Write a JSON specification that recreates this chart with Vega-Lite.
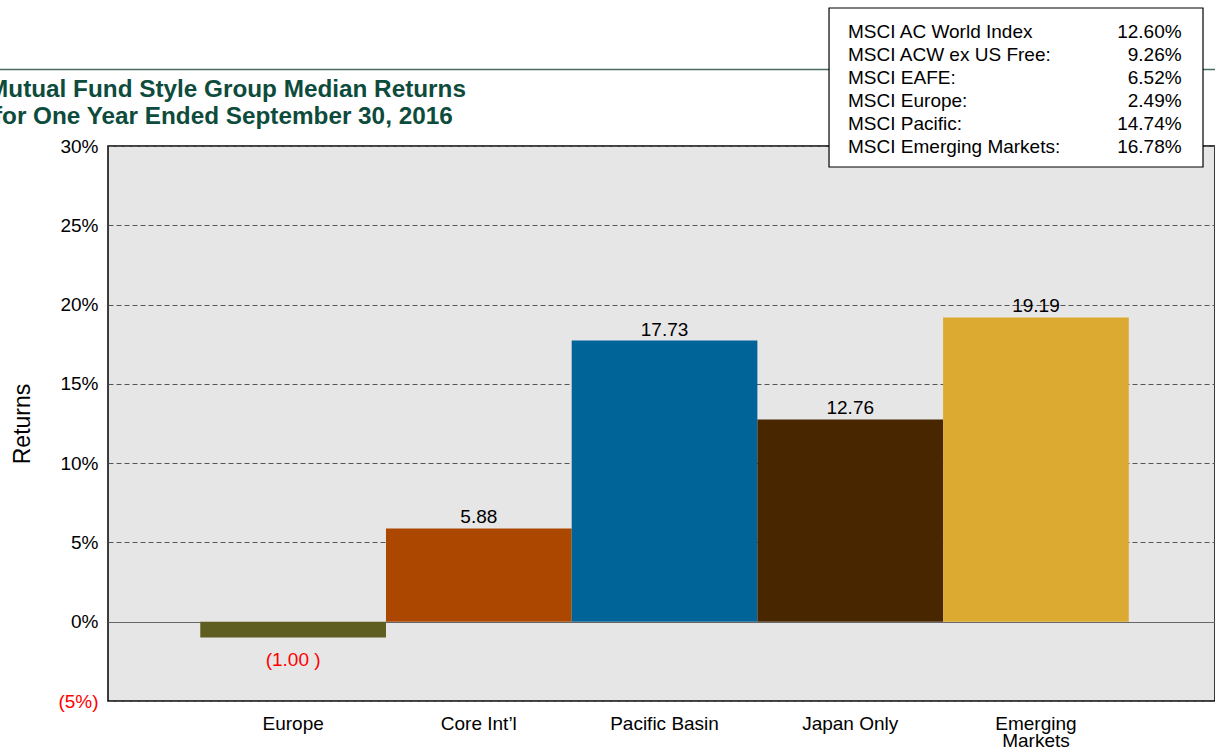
{
  "$schema": "https://vega.github.io/schema/vega-lite/v6.json",
  "width": 1107,
  "height": 555,
  "autosize": {"type": "none"},
  "padding": {"left": 108, "top": 146, "right": 0, "bottom": 47},
  "background": "#ffffff",
  "config": {
    "font": "Liberation Sans",
    "view": {"fill": "#e6e6e6", "stroke": "#000000", "strokeWidth": 1.5},
    "text": {"font": "Liberation Sans"}
  },
  "datasets": {
    "funds": [
      {"style": "Europe", "ret": -1.00, "label": "(1.00 )"},
      {"style": "Core Int’l", "ret": 5.88, "label": "5.88"},
      {"style": "Pacific Basin", "ret": 17.73, "label": "17.73"},
      {"style": "Japan Only", "ret": 12.76, "label": "12.76"},
      {"style": "Emerging Markets", "ret": 19.19, "label": "19.19"}
    ],
    "indices": [
      {"row": 1, "name": "MSCI AC World Index", "value": "12.60%"},
      {"row": 2, "name": "MSCI ACW ex US Free:", "value": "9.26%"},
      {"row": 3, "name": "MSCI EAFE:", "value": "6.52%"},
      {"row": 4, "name": "MSCI Europe:", "value": "2.49%"},
      {"row": 5, "name": "MSCI Pacific:", "value": "14.74%"},
      {"row": 6, "name": "MSCI Emerging Markets:", "value": "16.78%"}
    ]
  },
  "layer": [
    {
      "data": {"name": "funds"},
      "encoding": {
        "x": {
          "field": "style", "type": "nominal", "sort": null,
          "scale": {"paddingInner": 0, "paddingOuter": 0.4806, "align": 0.517},
          "axis": {
            "title": null, "labelAngle": 0, "labelFontSize": 19, "labelColor": "#000000",
            "labelPadding": 13, "ticks": false, "domain": false, "labelLimit": 0,
            "labelLineHeight": 17,
            "labelExpr": "datum.label == 'Emerging Markets' ? ['Emerging', 'Markets'] : datum.label"
          }
        },
        "y": {
          "field": "ret", "type": "quantitative",
          "scale": {"domain": [-5, 30], "nice": false, "zero": false},
          "axis": {
            "title": "Returns", "titleFontSize": 23, "titleFontWeight": "normal", "titleColor": "#000000",
            "titlePadding": 23,
            "values": [-5, 0, 5, 10, 15, 20, 25, 30],
            "labelFontSize": 19, "labelPadding": 10, "labelFlush": false, "labelOverlap": false,
            "ticks": false, "domain": false,
            "labelExpr": "datum.value < 0 ? '(' + abs(datum.value) + '%)' : datum.value + '%'",
            "labelColor": {"condition": {"test": "datum.value < 0", "value": "#ff0000"}, "value": "#000000"},
            "grid": true,
            "gridColor": {"condition": {"test": "datum.value === 0", "value": "#666666"}, "value": "#555555"},
            "gridDash": {"condition": {"test": "datum.value === 0", "value": []}, "value": [5, 3]},
            "gridWidth": 1.2
          }
        }
      },
      "layer": [
        {
          "mark": {"type": "bar"},
          "encoding": {
            "color": {
              "field": "style", "type": "nominal",
              "scale": {
                "domain": ["Europe", "Core Int’l", "Pacific Basin", "Japan Only", "Emerging Markets"],
                "range": ["#5e5e20", "#ac4700", "#006499", "#482600", "#dcaa30"]
              },
              "legend": null
            }
          }
        },
        {
          "transform": [{"filter": "datum.ret >= 0"}],
          "mark": {"type": "text", "fontSize": 19, "baseline": "alphabetic", "dy": -5, "color": "#000000"},
          "encoding": {"text": {"field": "label"}}
        },
        {
          "transform": [{"filter": "datum.ret < 0"}],
          "mark": {"type": "text", "fontSize": 19, "baseline": "alphabetic", "dy": 28, "color": "#ff0000"},
          "encoding": {"text": {"field": "label"}}
        }
      ]
    },
    {
      "layer": [
        {
          "data": {"values": [{}]},
          "mark": {"type": "rule", "color": "#4a6d62", "strokeWidth": 1.5},
          "encoding": {
            "x": {"datum": -0.7, "type": "quantitative", "scale": {"domain": [0, 6], "nice": false, "zero": false}, "axis": null},
            "x2": {"datum": 6.1},
            "y": {"datum": 2.622, "type": "quantitative", "scale": {"domain": [5.948, 30.078], "reverse": true, "nice": false, "zero": false}, "axis": null}
          }
        },
        {
          "data": {"values": [{}]},
          "mark": {"type": "rect", "fill": "#ffffff", "stroke": "#000000", "strokeWidth": 1.2},
          "encoding": {
            "x": {"datum": 3.908, "type": "quantitative", "scale": {"domain": [0, 6], "nice": false, "zero": false}, "axis": null},
            "x2": {"datum": 5.935},
            "y": {"datum": -0.052, "type": "quantitative", "scale": {"domain": [5.948, 30.078], "reverse": true, "nice": false, "zero": false}, "axis": null},
            "y2": {"datum": 6.861}
          }
        },
        {
          "data": {"name": "indices"},
          "mark": {"type": "text", "align": "left", "baseline": "middle", "fontSize": 19, "color": "#000000"},
          "encoding": {
            "x": {"datum": 4.011, "type": "quantitative", "scale": {"domain": [0, 6], "nice": false, "zero": false}, "axis": null},
            "y": {"field": "row", "type": "quantitative", "scale": {"domain": [5.948, 30.078], "reverse": true, "nice": false, "zero": false}, "axis": null},
            "text": {"field": "name"}
          }
        },
        {
          "data": {"name": "indices"},
          "mark": {"type": "text", "align": "right", "baseline": "middle", "fontSize": 19, "color": "#000000"},
          "encoding": {
            "x": {"datum": 5.819, "type": "quantitative", "scale": {"domain": [0, 6], "nice": false, "zero": false}, "axis": null},
            "y": {"field": "row", "type": "quantitative", "scale": {"domain": [5.948, 30.078], "reverse": true, "nice": false, "zero": false}, "axis": null},
            "text": {"field": "value"}
          }
        },
        {
          "data": {"values": [{}]},
          "mark": {"type": "text", "align": "left", "baseline": "alphabetic", "fontSize": 24.3, "fontWeight": "bold", "color": "#0d4b3c"},
          "encoding": {
            "x": {"datum": -0.65, "type": "quantitative", "scale": {"domain": [0, 6], "nice": false, "zero": false}, "axis": null},
            "y": {"datum": 3.796, "type": "quantitative", "scale": {"domain": [5.948, 30.078], "reverse": true, "nice": false, "zero": false}, "axis": null},
            "text": {"value": "Mutual Fund Style Group Median Returns"}
          }
        },
        {
          "data": {"values": [{}]},
          "mark": {"type": "text", "align": "left", "baseline": "alphabetic", "fontSize": 24.3, "fontWeight": "bold", "color": "#0d4b3c"},
          "encoding": {
            "x": {"datum": -0.618, "type": "quantitative", "scale": {"domain": [0, 6], "nice": false, "zero": false}, "axis": null},
            "y": {"datum": 5.013, "type": "quantitative", "scale": {"domain": [5.948, 30.078], "reverse": true, "nice": false, "zero": false}, "axis": null},
            "text": {"value": "for One Year Ended September 30, 2016"}
          }
        }
      ]
    }
  ],
  "resolve": {"scale": {"x": "independent", "y": "independent"}}
}
